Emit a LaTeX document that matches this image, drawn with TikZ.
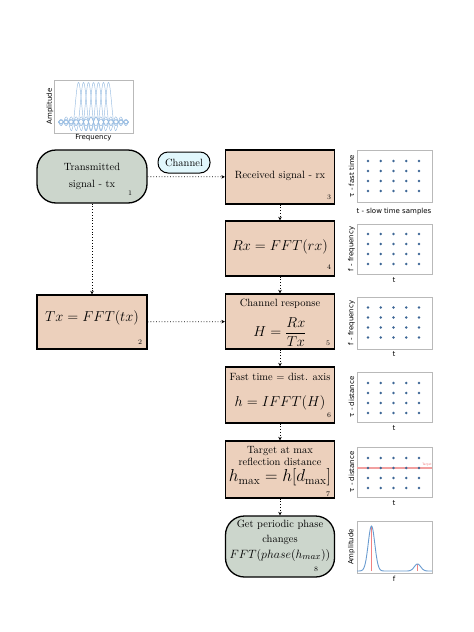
\documentclass[tikz,border=0pt]{standalone}
\usepackage{amsmath}
\usepackage{fontspec}
\newfontfamily\plotfont{DejaVu Sans}
\usetikzlibrary{arrows.meta,calc}
\definecolor{peach}{RGB}{236,208,188}
\definecolor{sage}{RGB}{204,214,204}
\definecolor{chan}{RGB}{225,247,252}
\definecolor{dotblue}{RGB}{62,103,150}
\definecolor{sincc}{RGB}{150,187,225}
\definecolor{curvec}{RGB}{105,155,208}
\definecolor{redl}{RGB}{240,130,130}
\definecolor{tgtl}{RGB}{242,160,160}
\newcommand\mydotgrid[1]{%
  \foreach \i in {0,...,4}{\foreach \j in {0,...,3}{%
    \fill[dotblue] ({368+12.75*\i},{#1+10*\j}) circle (1.3pt);}}}
\begin{document}
\begin{tikzpicture}[x=1pt,y=-1pt,
  box/.style={draw=black,line width=1.3pt,fill=peach,minimum width=109pt,inner sep=0pt},
  rbox/.style={box,fill=sage,rounded corners=19pt},
  txt/.style={font=\fontsize{10.5}{12.6}\selectfont,align=center,inner sep=0pt},
  mth/.style={font=\fontsize{15.5}{18}\selectfont,inner sep=0pt},
  num/.style={font=\fontsize{7}{8}\selectfont,inner sep=0pt},
  conn/.style={dotted,line width=0.8pt,-{Stealth[length=3.5pt,width=3.5pt]}},
  pframe/.style={draw=gray!55,line width=0.5pt},
  plab/.style={font=\plotfont\fontsize{7}{8}\selectfont,inner sep=0pt}]
\useasboundingbox (0,0) rectangle (474,632);

% ---------- top-left spectrum plot ----------
\draw[pframe] (54,80) rectangle (133,133);
\foreach \m in {-3,...,3}{%
  \draw[sincc,line width=0.45pt] plot[domain=-7:7,samples=142]
    ({93.5+5*\x},{122-39.6*sin(180*(\x-(\m)))/(3.14159*(\x-(\m)))});}
\node[plab,rotate=90] (pa0) at (50,106.5) {Amplitude};
\node[plab] (pf0) at (93.5,138) {Frequency};

% ---------- process nodes ----------
\node[rbox,minimum width=110pt,minimum height=53pt] (n1) at (92,176.5) {};
\node[txt,font=\fontsize{10.5}{17}\selectfont] (t1) at (92,176.5) {Transmitted\\signal - tx};
\node[num] (k1) at (130,193) {1};

\node[draw=black,line width=1pt,fill=chan,rounded corners=10pt,minimum width=52pt,
  minimum height=21pt,inner sep=0pt,font=\fontsize{10.5}{12}\selectfont] (ch) at (184,162.5) {Channel};

\node[box,minimum height=54pt] (n3) at (280,177) {};
\node[txt] (t3) at (280,176) {Received signal - rx};
\node[num] (k3) at (329,197) {3};

\node[box,minimum height=55pt] (n4) at (280,248.5) {};
\node[mth] (t4) at (280,247) {$Rx = FFT(rx)$};
\node[num] (k4) at (329,267.5) {4};

\node[box,minimum width=110pt,minimum height=54pt] (n2) at (92,322) {};
\node[mth] (t2) at (92,318) {$Tx = FFT(tx)$};
\node[num] (k2) at (140,342) {2};

\node[box,minimum height=55pt] (n5) at (280,321.5) {};
\node[txt] (t5) at (280,304) {Channel response};
\node[inner sep=0pt,font=\fontsize{14}{16}\selectfont] (m5) at (280,332) {$H = \dfrac{Rx}{Tx}$};
\node[num] (k5) at (328,343) {5};

\node[box,minimum height=56pt] (n6) at (280,395) {};
\node[txt] (t6) at (280,377) {Fast time = dist. axis};
\node[mth] (m6) at (280,403) {$h = IFFT(H)$};
\node[num] (k6) at (329,415) {6};

\node[box,minimum height=57pt] (n7) at (280,469.5) {};
\node[txt,font=\fontsize{10.5}{12}\selectfont] (t7) at (280,456) {Target at max\\reflection distance};
\node[inner sep=0pt,font=\fontsize{16.5}{19}\selectfont] (m7) at (280,477.5) {$h_{\max} = h[d_{\max}]$};
\node[num] (k7) at (328,494) {7};

\node[rbox,minimum height=61pt] (n8) at (280,546.5) {};
\node[txt,font=\fontsize{10.5}{15}\selectfont] (t8) at (280,532.5) {Get periodic phase\\changes};
\node[inner sep=0pt,font=\fontsize{13}{15}\selectfont] (m8) at (280,555) {$FFT(phase(h_{max}))$};
\node[num] (k8) at (316,569) {8};

% ---------- connectors ----------
\draw[conn] (n1) -- (n3);
\draw[conn] (n1) -- (n2);
\draw[conn] (n2) -- (n5);
\draw[conn] (n3) -- (n4);
\draw[conn] (n4) -- (n5);
\draw[conn] (n5) -- (n6);
\draw[conn] (n6) -- (n7);
\draw[conn] (n7) -- (n8);

% ---------- side plots ----------
% plot 3
\draw[pframe] (357,150) rectangle (432,202);
\mydotgrid{161}
\node[plab,rotate=90] (p3y) at (351.5,176) {τ - fast time};
\node[plab] (p3x) at (394,211.5) {t - slow time samples};
% plot 4
\draw[pframe] (357,224) rectangle (432,274);
\mydotgrid{234}
\node[plab,rotate=90] (p4y) at (351.5,249) {f - frequency};
\node[plab] (p4x) at (394,280) {t};
% plot 5
\draw[pframe] (357,297) rectangle (432,349);
\mydotgrid{307.5}
\node[plab,rotate=90] (p5y) at (351.5,323) {f - frequency};
\node[plab] (p5x) at (394,354.5) {t};
% plot 6
\draw[pframe] (357,372) rectangle (432,422);
\mydotgrid{383}
\node[plab,rotate=90] (p6y) at (351.5,397) {τ - distance};
\node[plab] (p6x) at (394,428) {t};
% plot 7
\draw[pframe] (357,447) rectangle (432,497);
\draw[tgtl,line width=1.8pt] (357,468) -- (432,468);
\mydotgrid{458}
\node[font=\plotfont\fontsize{3}{3}\selectfont,text=redl,inner sep=0pt] (tg) at (427,464.5) {Target};
\node[plab,rotate=90] (p7y) at (351.5,472) {τ - distance};
\node[plab] (p7x) at (394,503) {t};
% plot 8
\draw[pframe] (357,521.5) rectangle (432,573.5);
\draw[redl,line width=0.9pt] (371.5,571) -- (371.5,526.5);
\draw[redl,line width=0.9pt] (417.5,571) -- (417.5,564);
\draw[curvec,line width=0.9pt] plot[domain=357:432,samples=151]
  (\x,{571-45*exp(-min((\x-371.5)*(\x-371.5)/21.8,30))-7*exp(-min((\x-417.5)*(\x-417.5)/20.5,30))});
\node[plab,rotate=90] (p8y) at (351.5,547) {Amplitude};
\node[plab] (p8x) at (394,578.5) {f};
\end{tikzpicture}
\end{document}
